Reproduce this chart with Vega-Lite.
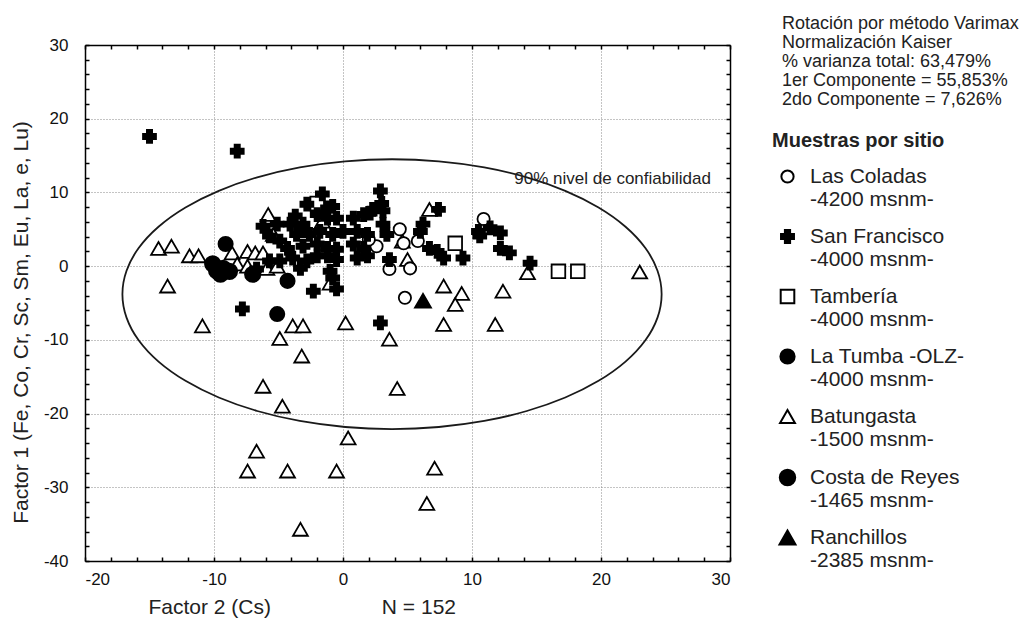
{
  "$schema": "https://vega.github.io/schema/vega-lite/v6.json",
  "width": 645,
  "height": 516,
  "autosize": {"type": "none"},
  "padding": {"left": 85, "top": 45, "right": 301, "bottom": 62},
  "background": "white",
  "title": {
    "text": ["Rotación por método Varimax", "Normalización Kaiser", "% varianza total: 63,479%", "1er Componente = 55,853%", "2do Componente = 7,626%"],
    "orient": "top",
    "anchor": "end",
    "frame": "group",
    "align": "left",
    "baseline": "top",
    "offset": 0,
    "dx": 52,
    "dy": 73,
    "font": "Liberation Sans",
    "fontSize": 18,
    "fontWeight": "normal",
    "lineHeight": 19,
    "color": "#222"
  },
  "datasets": {
    "pts": [
      {"s":"BA","x":-14.3,"y":2.4},{"s":"BA","x":-13.3,"y":2.7},{"s":"BA","x":-11.9,"y":1.4},{"s":"BA","x":-11.2,"y":1.4},{"s":"BA","x":-13.6,"y":-2.7},{"s":"BA","x":-10.9,"y":-8.1},{"s":"BA","x":-5.8,"y":7.0},{"s":"BA","x":6.7,"y":7.7},{"s":"BA","x":-1.6,"y":6.1},{"s":"BA","x":-5.4,"y":4.3},{"s":"BA","x":-8.6,"y":1.8},{"s":"BA","x":-7.4,"y":2.0},{"s":"BA","x":-6.8,"y":1.8},{"s":"BA","x":-6.2,"y":1.8},{"s":"BA","x":-8.2,"y":0.3},{"s":"BA","x":-7.4,"y":0.0},{"s":"BA","x":-5.9,"y":-0.3},{"s":"BA","x":-5.1,"y":0.0},{"s":"BA","x":5.0,"y":0.9},{"s":"BA","x":-1.0,"y":-2.3},{"s":"BA","x":14.3,"y":-0.9},{"s":"BA","x":7.8,"y":-2.7},{"s":"BA","x":9.2,"y":-3.7},{"s":"BA","x":8.7,"y":-5.2},{"s":"BA","x":12.4,"y":-3.4},{"s":"BA","x":7.8,"y":-7.9},{"s":"BA","x":11.8,"y":-7.9},{"s":"BA","x":0.2,"y":-7.7},{"s":"BA","x":-3.9,"y":-8.1},{"s":"BA","x":-3.1,"y":-8.1},{"s":"BA","x":-4.9,"y":-9.8},{"s":"BA","x":-3.2,"y":-12.2},{"s":"BA","x":-6.2,"y":-16.3},{"s":"BA","x":-4.7,"y":-19.0},{"s":"BA","x":-6.7,"y":-25.1},{"s":"BA","x":-7.4,"y":-27.8},{"s":"BA","x":-4.3,"y":-27.8},{"s":"BA","x":-0.5,"y":-27.8},{"s":"BA","x":0.4,"y":-23.3},{"s":"BA","x":3.6,"y":-9.9},{"s":"BA","x":4.2,"y":-16.6},{"s":"BA","x":-3.3,"y":-35.7},{"s":"BA","x":7.1,"y":-27.4},{"s":"BA","x":6.5,"y":-32.2},{"s":"BA","x":23.0,"y":-0.8},{"s":"BA","x":4.6,"y":3.4},
      {"s":"LC","x":10.9,"y":6.4},{"s":"LC","x":4.4,"y":5.0},{"s":"LC","x":2.6,"y":2.7},{"s":"LC","x":4.7,"y":3.1},{"s":"LC","x":5.8,"y":3.4},{"s":"LC","x":3.6,"y":-0.4},{"s":"LC","x":5.2,"y":-0.3},{"s":"LC","x":4.8,"y":-4.3},{"s":"LC","x":2.0,"y":3.6},
      {"s":"TA","x":-2.0,"y":8.5},{"s":"TA","x":8.7,"y":3.1},{"s":"TA","x":16.7,"y":-0.7},{"s":"TA","x":18.2,"y":-0.7},
      {"s":"CR","x":-10.1,"y":0.3},{"s":"CR","x":-9.3,"y":-0.3},{"s":"CR","x":-9.5,"y":-1.1},{"s":"CR","x":-8.8,"y":-0.7},{"s":"CR","x":-7.0,"y":-1.1},{"s":"CR","x":-9.8,"y":-0.6},
      {"s":"LT","x":-9.1,"y":3.0},{"s":"LT","x":-4.3,"y":-2.0},{"s":"LT","x":-5.1,"y":-6.5},
      {"s":"RA","x":6.2,"y":-4.7},
      {"s":"SF","x":-15.0,"y":17.6},{"s":"SF","x":-8.2,"y":15.6},{"s":"SF","x":-7.8,"y":-5.8},{"s":"SF","x":2.9,"y":-7.7},{"s":"SF","x":-2.3,"y":-3.4},{"s":"SF","x":-0.5,"y":-3.1},{"s":"SF","x":-0.8,"y":-1.6},{"s":"SF","x":-1.0,"y":-0.7},{"s":"SF","x":14.5,"y":0.4},
      {"s":"SF","x":2.9,"y":10.2},{"s":"SF","x":3.0,"y":8.5},{"s":"SF","x":-2.8,"y":8.4},{"s":"SF","x":-1.6,"y":9.8},{"s":"SF","x":-1.2,"y":7.9},{"s":"SF","x":-0.8,"y":8.1},{"s":"SF","x":2.3,"y":7.7},{"s":"SF","x":3.1,"y":7.5},{"s":"SF","x":7.4,"y":7.7},
      {"s":"SF","x":-3.7,"y":6.8},{"s":"SF","x":-2.0,"y":7.0},{"s":"SF","x":-1.2,"y":6.5},{"s":"SF","x":-0.5,"y":6.5},{"s":"SF","x":0.8,"y":6.5},{"s":"SF","x":1.6,"y":7.0},{"s":"SF","x":2.1,"y":7.2},{"s":"SF","x":3.1,"y":5.7},
      {"s":"SF","x":-6.2,"y":5.4},{"s":"SF","x":-5.1,"y":5.7},{"s":"SF","x":-4.1,"y":5.7},{"s":"SF","x":-3.1,"y":5.7},{"s":"SF","x":6.2,"y":5.7},{"s":"SF","x":6.0,"y":4.7},{"s":"SF","x":10.5,"y":4.7},{"s":"SF","x":11.4,"y":5.2},{"s":"SF","x":12.2,"y":4.5},
      {"s":"SF","x":-5.7,"y":4.1},{"s":"SF","x":-4.9,"y":3.4},{"s":"SF","x":-3.6,"y":4.3},{"s":"SF","x":-2.6,"y":4.3},{"s":"SF","x":-1.8,"y":4.7},{"s":"SF","x":-0.8,"y":4.3},{"s":"SF","x":0.0,"y":4.7},{"s":"SF","x":1.1,"y":4.7},{"s":"SF","x":1.9,"y":4.3},{"s":"SF","x":3.4,"y":4.3},
      {"s":"SF","x":-4.3,"y":2.4},{"s":"SF","x":-3.1,"y":2.7},{"s":"SF","x":-2.0,"y":3.0},{"s":"SF","x":-1.2,"y":2.4},{"s":"SF","x":-0.5,"y":2.3},{"s":"SF","x":0.8,"y":3.0},{"s":"SF","x":1.6,"y":2.4},
      {"s":"SF","x":7.3,"y":2.0},{"s":"SF","x":7.8,"y":1.1},{"s":"SF","x":9.3,"y":1.1},{"s":"SF","x":6.7,"y":2.4},{"s":"SF","x":12.2,"y":2.4},{"s":"SF","x":12.9,"y":1.8},{"s":"SF","x":10.6,"y":4.1},
      {"s":"SF","x":-6.7,"y":-0.4},{"s":"SF","x":-4.9,"y":0.7},{"s":"SF","x":-5.7,"y":0.7},{"s":"SF","x":-3.9,"y":1.1},{"s":"SF","x":-2.8,"y":0.7},{"s":"SF","x":-2.0,"y":1.4},{"s":"SF","x":-1.2,"y":1.4},{"s":"SF","x":-0.5,"y":0.9},{"s":"SF","x":-3.3,"y":-0.3},{"s":"SF","x":1.1,"y":1.1},{"s":"SF","x":1.9,"y":1.4},{"s":"SF","x":3.6,"y":0.9}
    ],
    "ell": [
      {"i":0,"x":24.70,"y":-3.80},{"i":1,"x":24.38,"y":-0.62},{"i":2,"x":23.44,"y":2.46},{"i":3,"x":21.90,"y":5.35},{"i":4,"x":19.81,"y":7.96},{"i":5,"x":17.23,"y":10.22},{"i":6,"x":14.25,"y":12.05},{"i":7,"x":10.95,"y":13.40},{"i":8,"x":7.43,"y":14.22},{"i":9,"x":3.80,"y":14.50},
      {"i":10,"x":0.17,"y":14.22},{"i":11,"x":-3.35,"y":13.40},{"i":12,"x":-6.65,"y":12.05},{"i":13,"x":-9.63,"y":10.22},{"i":14,"x":-12.21,"y":7.96},{"i":15,"x":-14.30,"y":5.35},{"i":16,"x":-15.84,"y":2.46},{"i":17,"x":-16.78,"y":-0.62},{"i":18,"x":-17.10,"y":-3.80},
      {"i":19,"x":-16.78,"y":-6.98},{"i":20,"x":-15.84,"y":-10.06},{"i":21,"x":-14.30,"y":-12.95},{"i":22,"x":-12.21,"y":-15.56},{"i":23,"x":-9.63,"y":-17.82},{"i":24,"x":-6.65,"y":-19.65},{"i":25,"x":-3.35,"y":-21.00},{"i":26,"x":0.17,"y":-21.82},{"i":27,"x":3.80,"y":-22.10},
      {"i":28,"x":7.43,"y":-21.82},{"i":29,"x":10.95,"y":-21.00},{"i":30,"x":14.25,"y":-19.65},{"i":31,"x":17.23,"y":-17.82},{"i":32,"x":19.81,"y":-15.56},{"i":33,"x":21.90,"y":-12.95},{"i":34,"x":23.44,"y":-10.06},{"i":35,"x":24.38,"y":-6.98}
    ]
  },
  "layer": [
    {
      "data": {"name": "ell"},
      "mark": {"type": "line", "interpolate": "cardinal-closed", "stroke": "#1a1a1a", "strokeWidth": 1.8},
      "encoding": {
        "order": {"field": "i", "type": "quantitative"},
        "x": {"field": "x", "type": "quantitative", "scale": {"domain": [-20, 30], "nice": false, "zero": false},
          "axis": {"orient": "top", "title": null, "labels": false, "grid": false, "tickSize": -4,
            "values": [-20,-18,-16,-14,-12,-10,-8,-6,-4,-2,0,2,4,6,8,10,12,14,16,18,20,22,24,26,28,30]}},
        "y": {"field": "y", "type": "quantitative", "scale": {"domain": [-40, 30], "nice": false, "zero": false},
          "axis": {"orient": "right", "title": null, "labels": false, "grid": false, "tickSize": -4,
            "values": [-40,-38,-36,-34,-32,-30,-28,-26,-24,-22,-20,-18,-16,-14,-12,-10,-8,-6,-4,-2,0,2,4,6,8,10,12,14,16,18,20,22,24,26,28,30]}}
      }
    },
    {
      "data": {"values": [{"t": "90% nivel de confiabilidad", "x": 20.9, "y": 11.8}]},
      "mark": {"type": "text", "font": "Liberation Sans", "fontSize": 17, "color": "#222", "align": "center", "baseline": "middle"},
      "encoding": {
        "x": {"field": "x", "type": "quantitative", "scale": {"domain": [-20, 30], "nice": false, "zero": false}, "axis": null},
        "y": {"field": "y", "type": "quantitative", "scale": {"domain": [-40, 30], "nice": false, "zero": false}, "axis": null},
        "text": {"field": "t"}
      }
    },
    {
      "data": {"name": "pts"},
      "mark": {"type": "point", "filled": true, "stroke": "black", "strokeWidth": 1.8, "opacity": 1},
      "encoding": {
        "x": {"field": "x", "type": "quantitative", "scale": {"domain": [-20, 30], "nice": false, "zero": false},
          "axis": {"orient": "bottom",
            "title": "Factor 2 (Cs)\u00a0\u00a0\u00a0\u00a0\u00a0\u00a0\u00a0\u00a0\u00a0\u00a0\u00a0\u00a0\u00a0\u00a0\u00a0\u00a0\u00a0\u00a0\u00a0N = 152",
            "titleX": 63, "titleY": 46, "titleAlign": "left", "titleBaseline": "middle", "titleAnchor": "start",
            "tickSize": -4, "labelPadding": 14,
            "labelExpr": "datum.value % 10 === 0 ? '' + datum.value : ''",
            "values": [-20,-18,-16,-14,-12,-10,-8,-6,-4,-2,0,2,4,6,8,10,12,14,16,18,20,22,24,26,28,30],
            "grid": true,
            "gridOpacity": {"condition": {"test": "datum.value % 10 === 0 && datum.value > -20 && datum.value < 30", "value": 1}, "value": 0}}},
        "y": {"field": "y", "type": "quantitative", "scale": {"domain": [-40, 30], "nice": false, "zero": false},
          "axis": {"orient": "left",
            "title": "Factor 1 (Fe, Co, Cr, Sc, Sm, Eu, La, e, Lu)",
            "titleX": -64, "titleY": 277, "titleAlign": "center", "titleBaseline": "middle", "titleAngle": -90,
            "tickSize": -4, "labelPadding": 21,
            "labelExpr": "datum.value % 10 === 0 ? '' + datum.value : ''",
            "values": [-40,-38,-36,-34,-32,-30,-28,-26,-24,-22,-20,-18,-16,-14,-12,-10,-8,-6,-4,-2,0,2,4,6,8,10,12,14,16,18,20,22,24,26,28,30],
            "grid": true,
            "gridOpacity": {"condition": {"test": "datum.value % 10 === 0 && datum.value > -40 && datum.value < 30", "value": 1}, "value": 0}}},
        "shape": {"field": "s", "type": "nominal",
          "scale": {"domain": ["LC","SF","TA","LT","BA","CR","RA"], "range": ["circle","cross","square","circle","triangle-up","circle","triangle-up"]},
          "legend": {
            "orient": "none", "legendX": 687, "legendY": 86, "padding": 0,
            "title": "Muestras por sitio", "titleFont": "Liberation Sans", "titleFontSize": 20, "titleFontWeight": "bold", "titleColor": "#222", "titlePadding": 15,
            "labelFont": "Liberation Sans", "labelFontSize": 21, "labelColor": "#222", "labelBaseline": "middle", "labelLimit": 300,
            "labelOffset": 12, "symbolOffset": 5, "rowPadding": 15, "symbolStrokeWidth": 2, "symbolStrokeColor": "black",
            "labelExpr": "datum.label=='LC'?['Las Coladas','-4200 msnm-']:datum.label=='SF'?['San Francisco','-4000 msnm-']:datum.label=='TA'?['Tambería','-4000 msnm-']:datum.label=='LT'?['La Tumba -OLZ-','-4000 msnm-']:datum.label=='BA'?['Batungasta','-1500 msnm-']:datum.label=='CR'?['Costa de Reyes','-1465 msnm-']:['Ranchillos','-2385 msnm-']"
          }},
        "fill": {"field": "s", "type": "nominal",
          "scale": {"domain": ["LC","SF","TA","LT","BA","CR","RA"], "range": ["white","black","white","black","white","black","black"]}},
        "size": {"field": "s", "type": "nominal",
          "scale": {"domain": ["LC","SF","TA","LT","BA","CR","RA"], "range": [150,256,144,190,190,190,190]}}
      }
    }
  ],
  "resolve": {"axis": {"x": "independent", "y": "independent"}},
  "config": {
    "font": "Liberation Sans",
    "view": {"stroke": null},
    "style": {"guide-label": {"lineHeight": 23}},
    "axis": {
      "domainColor": "black", "domainWidth": 1.5,
      "tickColor": "black", "tickWidth": 1.5,
      "labelFont": "Liberation Sans", "labelFontSize": 17, "labelColor": "#111",
      "titleFont": "Liberation Sans", "titleFontSize": 21, "titleFontWeight": "normal", "titleColor": "#222",
      "gridColor": "#888", "gridDash": [1, 2], "gridWidth": 1
    }
  }
}
